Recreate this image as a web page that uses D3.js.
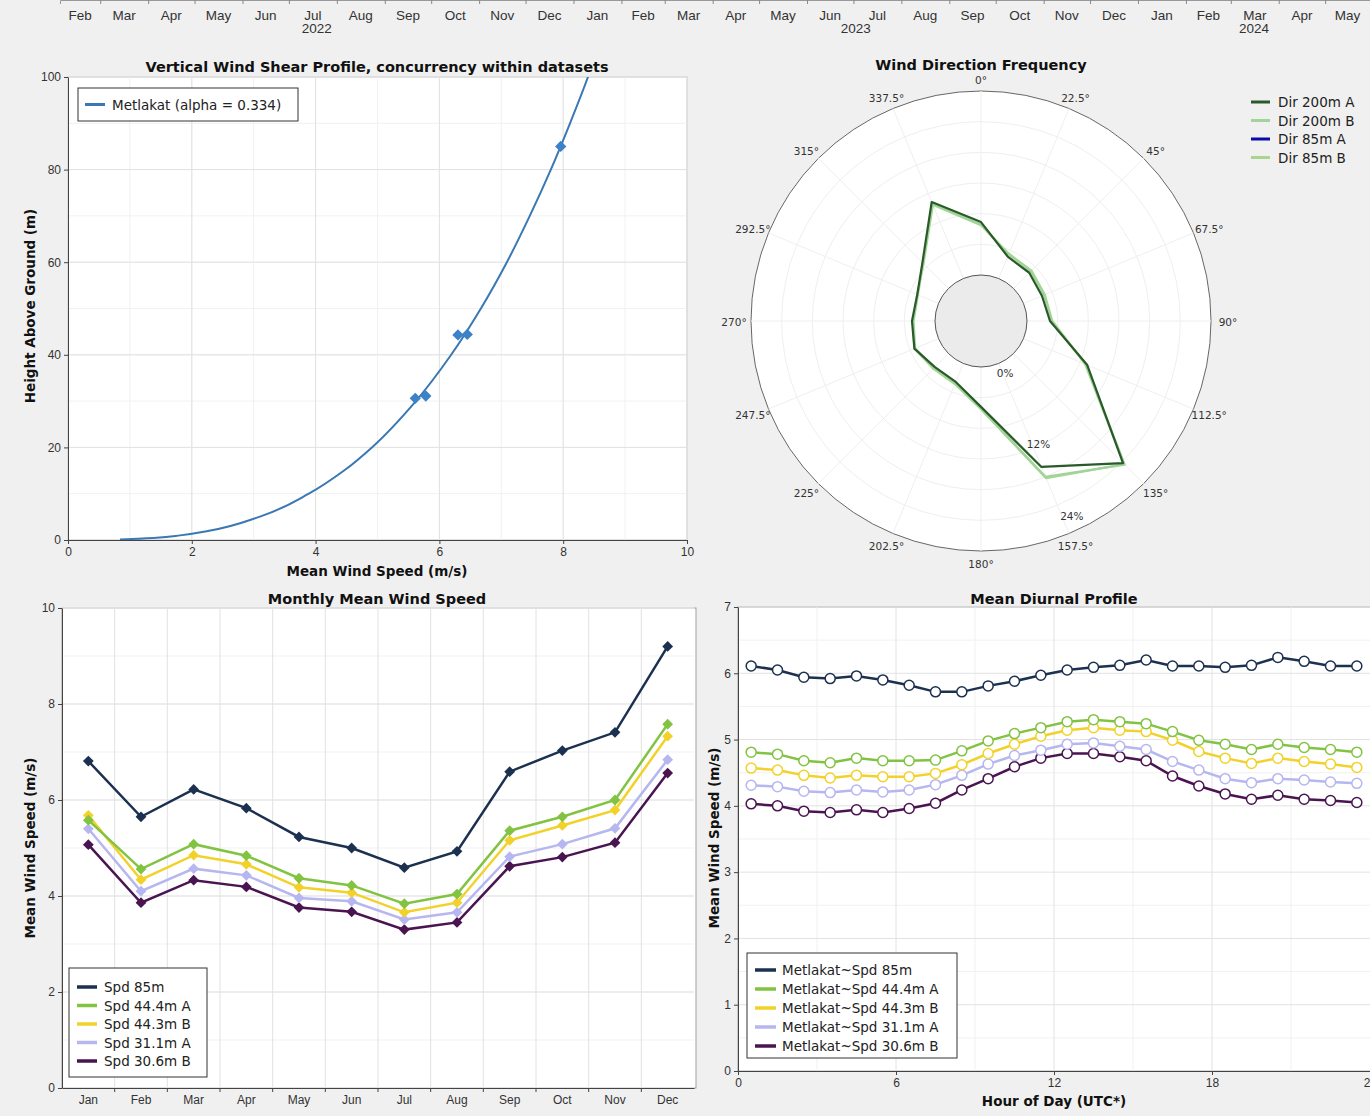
<!DOCTYPE html>
<html>
<head>
<meta charset="utf-8">
<script src="https://cdn.jsdelivr.net/npm/d3@7"></script>
<style>
  body { margin: 0; background: #f0f0f0; }
  svg { display: block; font-family: "Liberation Sans", Arial, sans-serif; }
  .title { font-family: "DejaVu Sans", sans-serif; font-weight: bold; font-size: 14.5px; fill: #111; }
  .axisTitle { font-family: "DejaVu Sans", sans-serif; font-weight: bold; font-size: 13.5px; fill: #111; }
  .tick text { font-size: 12px; fill: #333; font-family: "Liberation Sans", Arial, sans-serif; }
  .legendText { font-family: "DejaVu Sans", sans-serif; font-size: 13.5px; fill: #222; }
  .month { font-size: 13.5px; fill: #333; }
  .dirLabel { font-family: "DejaVu Sans", sans-serif; font-size: 10.5px; fill: #333; }
</style>
</head>
<body>
<svg id="chart" width="1370" height="1116"></svg>
<script>
// timeline strip
var timelineStart = new Date(2022, 1, 3),
    timelineEnd = new Date(2024, 4, 30);
var years = [2022, 2023, 2024];

// vertical shear profile (curve)
var shearLabel = "Metlakat (alpha = 0.334)";
var shearCurveHeight = [0.1, 0.5, 1, 2, 5, 10, 15, 20, 30, 40, 50, 60, 70, 80, 90, 100, 103];
var shearCurveSpeed = [0.84, 1.43, 1.81, 2.28, 3.09, 3.89, 4.46, 4.91, 5.62, 6.19, 6.67, 7.09, 7.46, 7.80, 8.11, 8.40, 8.48];
var shearPointHeight = [30.6, 31.1, 44.3, 44.4, 85];
var shearPointSpeed = [5.61, 5.78, 6.30, 6.45, 7.96];

// wind direction frequency (%)
var directions = [0, 22.5, 45, 67.5, 90, 112.5, 135, 157.5, 180, 202.5, 225, 247.5, 270, 292.5, 315, 337.5];
var dirNames = ["Dir 200m A", "Dir 200m B", "Dir 85m A", "Dir 85m B"];
var dir200A = [6.9, 3.1, 2.9, 2.6, 3.0, 9.0, 20.2, 14.6, 5.2, 2.6, 2.5, 3.4, 3.0, 3.0, 4.8, 10.8];
var dir200B = [6.6, 3.4, 3.2, 2.9, 3.2, 8.8, 20.5, 16.0, 5.4, 2.8, 2.7, 3.3, 2.8, 2.9, 4.7, 10.5];
var dir85A = [];
var dir85B = [6.5, 3.5, 3.3, 3.0, 3.3, 8.7, 20.4, 16.2, 5.5, 2.9, 2.8, 3.4, 2.9, 3.0, 4.6, 10.4];
var dirRingLabels = [0, 12, 24];

// monthly mean wind speed (m/s)
var months = ["Jan", "Feb", "Mar", "Apr", "May", "Jun", "Jul", "Aug", "Sep", "Oct", "Nov", "Dec"];
var monthlyNames = ["Spd 85m", "Spd 44.4m A", "Spd 44.3m B", "Spd 31.1m A", "Spd 30.6m B"];
var monthly85 = [6.81, 5.65, 6.22, 5.83, 5.23, 5.00, 4.59, 4.93, 6.59, 7.03, 7.41, 9.20];
var monthly444A = [5.58, 4.56, 5.08, 4.84, 4.37, 4.22, 3.84, 4.04, 5.36, 5.65, 6.00, 7.58];
var monthly443B = [5.68, 4.34, 4.85, 4.66, 4.18, 4.07, 3.66, 3.86, 5.16, 5.47, 5.79, 7.33];
var monthly311A = [5.40, 4.10, 4.57, 4.43, 3.96, 3.89, 3.51, 3.66, 4.82, 5.08, 5.41, 6.84];
var monthly306B = [5.07, 3.86, 4.33, 4.19, 3.76, 3.67, 3.30, 3.45, 4.62, 4.81, 5.11, 6.56];

// mean diurnal profile (m/s)
var hours = [0.5, 1.5, 2.5, 3.5, 4.5, 5.5, 6.5, 7.5, 8.5, 9.5, 10.5, 11.5, 12.5, 13.5, 14.5, 15.5, 16.5, 17.5, 18.5, 19.5, 20.5, 21.5, 22.5, 23.5];
var diurnalNames = ["Metlakat~Spd 85m", "Metlakat~Spd 44.4m A", "Metlakat~Spd 44.3m B", "Metlakat~Spd 31.1m A", "Metlakat~Spd 30.6m B"];
var diurnal85 = [6.11, 6.05, 5.94, 5.92, 5.96, 5.90, 5.82, 5.72, 5.72, 5.81, 5.88, 5.97, 6.05, 6.09, 6.12, 6.20, 6.11, 6.11, 6.09, 6.12, 6.24, 6.18, 6.11, 6.11];
var diurnal444A = [4.81, 4.78, 4.68, 4.65, 4.72, 4.68, 4.68, 4.69, 4.83, 4.98, 5.09, 5.18, 5.27, 5.30, 5.27, 5.24, 5.12, 4.99, 4.93, 4.85, 4.93, 4.88, 4.85, 4.81];
var diurnal443B = [4.57, 4.54, 4.46, 4.42, 4.46, 4.44, 4.44, 4.49, 4.62, 4.79, 4.93, 5.05, 5.14, 5.18, 5.14, 5.12, 4.99, 4.82, 4.72, 4.64, 4.72, 4.67, 4.63, 4.58];
var diurnal311A = [4.31, 4.29, 4.22, 4.20, 4.24, 4.21, 4.24, 4.32, 4.46, 4.63, 4.76, 4.84, 4.93, 4.95, 4.90, 4.85, 4.67, 4.54, 4.41, 4.35, 4.41, 4.39, 4.36, 4.34];
var diurnal306B = [4.03, 4.00, 3.92, 3.90, 3.94, 3.90, 3.96, 4.04, 4.24, 4.41, 4.59, 4.72, 4.79, 4.79, 4.74, 4.68, 4.45, 4.30, 4.18, 4.10, 4.16, 4.10, 4.08, 4.05];

var speedColors = ["#1c3150", "#82c341", "#f2d22a", "#b6b6f0", "#4a1450"];
var dirColors = ["#2a5a2a", "#9fd59a", "#0a0aa8", "#a9d58e"];

var svg = d3.select("#chart");

function frame(x0, y0, x1, y1) {
    svg.append("rect")
        .attr("x", x0).attr("y", y0)
        .attr("width", x1 - x0).attr("height", y1 - y0)
        .attr("fill", "#fff")
        .attr("stroke", "#a0a0a0");
}

function grid(x, y, xs, ys, color) {
    var g = svg.append("g").attr("stroke", color).attr("stroke-width", 1);
    g.selectAll(".gx").data(xs).enter().append("line")
        .attr("x1", function (d) { return x(d); }).attr("x2", function (d) { return x(d); })
        .attr("y1", y.range()[0]).attr("y2", y.range()[1]);
    g.selectAll(".gy").data(ys).enter().append("line")
        .attr("y1", function (d) { return y(d); }).attr("y2", function (d) { return y(d); })
        .attr("x1", x.range()[0]).attr("x2", x.range()[1]);
}

function styleAxis(g) {
    g.select(".domain").attr("stroke", "#444");
    g.selectAll(".tick line").attr("stroke", "#444");
}

function yTitle(text, cx, cy) {
    svg.append("text")
        .attr("class", "axisTitle")
        .attr("transform", "translate(" + cx + "," + cy + ") rotate(-90)")
        .attr("text-anchor", "middle")
        .text(text);
}

// ---------- timeline strip ----------
var tScale = d3.scaleTime().domain([timelineStart, timelineEnd]).range([60, 1370]);

svg.append("g")
    .attr("transform", "translate(0,0)")
    .call(d3.axisBottom(tScale).ticks(d3.timeMonth.every(1)).tickSize(4).tickFormat(""))
    .call(function (g) {
        g.select(".domain").attr("stroke", "#999");
        g.selectAll(".tick line").attr("stroke", "#888");
    });

var monthStarts = [d3.timeMonth.floor(timelineStart)].concat(d3.timeMonth.range(d3.timeMonth.ceil(timelineStart), timelineEnd));
svg.selectAll(".month")
    .data(monthStarts)
    .enter().append("text")
    .attr("class", "month")
    .attr("text-anchor", "middle")
    .attr("x", function (d) {
        var a = d < timelineStart ? timelineStart : d;
        var b = d3.timeMonth.offset(d, 1);
        if (b > timelineEnd) b = timelineEnd;
        return (tScale(a) + tScale(b)) / 2;
    })
    .attr("y", 20)
    .text(d3.timeFormat("%b"));

svg.selectAll(".year")
    .data(years)
    .enter().append("text")
    .attr("class", "month")
    .attr("text-anchor", "middle")
    .attr("x", function (d) {
        var a = new Date(d, 0, 1), b = new Date(d + 1, 0, 1);
        if (a < timelineStart) a = timelineStart;
        if (b > timelineEnd) b = timelineEnd;
        return (tScale(a) + tScale(b)) / 2;
    })
    .attr("y", 33)
    .text(function (d) { return d; });

// ---------- vertical wind shear profile ----------
var sx = d3.scaleLinear().domain([0, 10]).range([68, 687]);
var sy = d3.scaleLinear().domain([0, 100]).range([540, 77]);

frame(68, 77, 687, 540);
grid(sx, sy, sx.ticks(10), sy.ticks(10), "#f1f1f1");
grid(sx, sy, sx.ticks(5), sy.ticks(5), "#e2e2e2");

svg.append("clipPath").attr("id", "shearClip")
    .append("rect").attr("x", 68).attr("y", 77).attr("width", 619).attr("height", 463);

var shearCurve = shearCurveHeight.map(function (h, i) { return [shearCurveSpeed[i], h]; });
svg.append("path")
    .datum(shearCurve)
    .attr("clip-path", "url(#shearClip)")
    .attr("fill", "none")
    .attr("stroke", "#3a78b4")
    .attr("stroke-width", 2)
    .attr("d", d3.line()
        .x(function (d) { return sx(d[0]); })
        .y(function (d) { return sy(d[1]); })
        .curve(d3.curveMonotoneY));

svg.selectAll(".shearPt")
    .data(shearPointHeight)
    .enter().append("path")
    .attr("transform", function (d, i) { return "translate(" + sx(shearPointSpeed[i]) + "," + sy(d) + ") rotate(45)"; })
    .attr("d", d3.symbol(d3.symbolSquare, 64))
    .attr("fill", "#3c82c8");

svg.append("g")
    .attr("transform", "translate(0,540)")
    .call(d3.axisBottom(sx).ticks(5).tickSize(4).tickSizeOuter(0))
    .call(styleAxis);
svg.append("g")
    .attr("transform", "translate(68,0)")
    .call(d3.axisLeft(sy).ticks(5).tickSize(4).tickSizeOuter(0))
    .call(styleAxis);

svg.append("text").attr("class", "title").attr("text-anchor", "middle")
    .attr("x", 377).attr("y", 72).text("Vertical Wind Shear Profile, concurrency within datasets");
svg.append("text").attr("class", "axisTitle").attr("text-anchor", "middle")
    .attr("x", 377).attr("y", 576).text("Mean Wind Speed (m/s)");
yTitle("Height Above Ground (m)", 35, 306);

var shearLegend = svg.append("g");
shearLegend.append("rect").attr("x", 78).attr("y", 88).attr("width", 220).attr("height", 33)
    .attr("fill", "#fff").attr("stroke", "#333");
shearLegend.append("line").attr("x1", 85).attr("x2", 105).attr("y1", 104.5).attr("y2", 104.5)
    .attr("stroke", "#3a78b4").attr("stroke-width", 3);
shearLegend.append("text").attr("class", "legendText").attr("x", 112).attr("y", 109.5).text(shearLabel);

// ---------- wind direction frequency ----------
var pcx = 981, pcy = 321;
var pr = d3.scaleLinear().domain([0, 24]).range([46, 230]);
var ringLabelR = d3.scaleLinear().domain([0, 24]).range([57, 215]);
var polar = svg.append("g").attr("transform", "translate(" + pcx + "," + pcy + ")");

polar.append("circle").attr("r", pr(24)).attr("fill", "#fff").attr("stroke", "#666");
polar.selectAll(".ring")
    .data(d3.range(4, 24, 4))
    .enter().append("circle")
    .attr("r", function (d) { return pr(d); })
    .attr("fill", "none").attr("stroke", "#efefef");
polar.selectAll(".spoke")
    .data(directions)
    .enter().append("line")
    .attr("x1", function (d) { return pr(0) * Math.sin(d * Math.PI / 180); })
    .attr("y1", function (d) { return -pr(0) * Math.cos(d * Math.PI / 180); })
    .attr("x2", function (d) { return pr(24) * Math.sin(d * Math.PI / 180); })
    .attr("y2", function (d) { return -pr(24) * Math.cos(d * Math.PI / 180); })
    .attr("stroke", "#efefef");
polar.append("circle").attr("r", pr(0)).attr("fill", "#ebebeb").attr("stroke", "#555");

var radial = d3.lineRadial()
    .angle(function (d) { return d[0] * Math.PI / 180; })
    .radius(function (d) { return pr(d[1]); })
    .curve(d3.curveLinearClosed);

var dirData = [dir200A, dir200B, dir85A, dir85B];
[3, 1, 2, 0].forEach(function (k) {
    if (!dirData[k].length) return;
    polar.append("path")
        .datum(directions.map(function (a, i) { return [a, dirData[k][i]]; }))
        .attr("fill", "none")
        .attr("stroke", dirColors[k])
        .attr("stroke-width", 2.2)
        .attr("stroke-linejoin", "round")
        .attr("d", radial);
});

polar.selectAll(".ringLabel")
    .data(dirRingLabels)
    .enter().append("text")
    .attr("class", "dirLabel")
    .attr("text-anchor", "middle")
    .attr("x", function (d) { return ringLabelR(d) * Math.sin(155 * Math.PI / 180); })
    .attr("y", function (d) { return -ringLabelR(d) * Math.cos(155 * Math.PI / 180) + 4; })
    .text(function (d) { return d + "%"; });

polar.selectAll(".angLabel")
    .data(directions)
    .enter().append("text")
    .attr("class", "dirLabel")
    .attr("text-anchor", "middle")
    .attr("x", function (d) { return 247 * Math.sin(d * Math.PI / 180); })
    .attr("y", function (d) { return -242 * Math.cos(d * Math.PI / 180) + 5; })
    .text(function (d) { return d + "\u00b0"; });

svg.append("text").attr("class", "title").attr("text-anchor", "middle")
    .attr("x", 981).attr("y", 70).text("Wind Direction Frequency");

var dirLegend = svg.selectAll(".dirLeg")
    .data(dirNames)
    .enter().append("g")
    .attr("transform", function (d, i) { return "translate(1251," + (102 + i * 18.5) + ")"; });
dirLegend.append("line").attr("x1", 0).attr("x2", 19)
    .attr("stroke", function (d, i) { return dirColors[i]; }).attr("stroke-width", 3);
dirLegend.append("text").attr("class", "legendText").attr("x", 27).attr("y", 5)
    .text(function (d) { return d; });

// ---------- monthly mean wind speed ----------
var mx = d3.scaleBand().domain(months).range([62, 694]);
var my = d3.scaleLinear().domain([0, 10]).range([1088, 608]);
var mxc = function (m) { return mx(m) + mx.bandwidth() / 2; };

frame(62, 608, 696, 1088);
grid(mx, my, [], my.ticks(10), "#f1f1f1");
var mBounds = months.slice(1).map(function (m) { return mx(m); });
grid(d3.scaleIdentity().range([62, 694]), my, mBounds, my.ticks(5), "#e2e2e2");

var monthlyData = [monthly85, monthly444A, monthly443B, monthly311A, monthly306B];
var mline = d3.line()
    .x(function (d, i) { return mxc(months[i]); })
    .y(function (d) { return my(d); });

[4, 3, 2, 1, 0].forEach(function (k) {
    svg.append("path")
        .datum(monthlyData[k])
        .attr("fill", "none")
        .attr("stroke", speedColors[k])
        .attr("stroke-width", 2.5)
        .attr("d", mline);
    svg.selectAll(".mPt" + k)
        .data(monthlyData[k])
        .enter().append("path")
        .attr("transform", function (d, i) { return "translate(" + mxc(months[i]) + "," + my(d) + ") rotate(45)"; })
        .attr("d", d3.symbol(d3.symbolSquare, 58))
        .attr("fill", speedColors[k]);
});

svg.append("g")
    .attr("transform", "translate(0,1088)")
    .call(d3.axisBottom(mx).tickSize(0).tickPadding(7))
    .call(styleAxis);
svg.selectAll(".mTick")
    .data(mBounds)
    .enter().append("line")
    .attr("x1", function (d) { return d; }).attr("x2", function (d) { return d; })
    .attr("y1", 1088).attr("y2", 1092).attr("stroke", "#444");
svg.append("g")
    .attr("transform", "translate(62,0)")
    .call(d3.axisLeft(my).ticks(5).tickSize(4).tickSizeOuter(0))
    .call(styleAxis);

svg.append("text").attr("class", "title").attr("text-anchor", "middle")
    .attr("x", 377).attr("y", 604).text("Monthly Mean Wind Speed");
yTitle("Mean Wind Speed (m/s)", 35, 848);

var mLegend = svg.append("g");
mLegend.append("rect").attr("x", 69).attr("y", 968).attr("width", 138).attr("height", 109)
    .attr("fill", "#fff").attr("stroke", "#333");
var mRows = mLegend.selectAll(".mLeg")
    .data(monthlyNames)
    .enter().append("g")
    .attr("transform", function (d, i) { return "translate(77," + (987 + i * 18.5) + ")"; });
mRows.append("line").attr("x1", 0).attr("x2", 20)
    .attr("stroke", function (d, i) { return speedColors[i]; }).attr("stroke-width", 3.5);
mRows.append("text").attr("class", "legendText").attr("x", 27).attr("y", 5).text(function (d) { return d; });

// ---------- mean diurnal profile ----------
var dx = d3.scaleLinear().domain([0, 24]).range([738, 1370]);
var dy = d3.scaleLinear().domain([0, 7]).range([1071, 607]);

frame(738, 607, 1375, 1071);
grid(dx, dy, [3, 9, 15, 21], d3.range(0.5, 7, 1), "#f1f1f1");
grid(dx, dy, [6, 12, 18], dy.ticks(7), "#e2e2e2");

var diurnalData = [diurnal85, diurnal444A, diurnal443B, diurnal311A, diurnal306B];
var dline = d3.line()
    .x(function (d, i) { return dx(hours[i]); })
    .y(function (d) { return dy(d); });

[4, 3, 2, 1, 0].forEach(function (k) {
    svg.append("path")
        .datum(diurnalData[k])
        .attr("fill", "none")
        .attr("stroke", speedColors[k])
        .attr("stroke-width", 2.5)
        .attr("d", dline);
    svg.selectAll(".dPt" + k)
        .data(diurnalData[k])
        .enter().append("circle")
        .attr("cx", function (d, i) { return dx(hours[i]); })
        .attr("cy", function (d) { return dy(d); })
        .attr("r", 5)
        .attr("fill", "#fff")
        .attr("stroke", speedColors[k])
        .attr("stroke-width", 1.5);
});

svg.append("g")
    .attr("transform", "translate(0,1071)")
    .call(d3.axisBottom(dx).tickValues([0, 6, 12, 18, 24]).tickSize(4).tickSizeOuter(0))
    .call(styleAxis);
svg.append("g")
    .attr("transform", "translate(738,0)")
    .call(d3.axisLeft(dy).ticks(7).tickSize(4).tickSizeOuter(0))
    .call(styleAxis);

svg.append("text").attr("class", "title").attr("text-anchor", "middle")
    .attr("x", 1054).attr("y", 604).text("Mean Diurnal Profile");
svg.append("text").attr("class", "axisTitle").attr("text-anchor", "middle")
    .attr("x", 1054).attr("y", 1106).text("Hour of Day (UTC*)");
yTitle("Mean Wind Speed (m/s)", 719, 838);

var dLegend = svg.append("g");
dLegend.append("rect").attr("x", 747).attr("y", 953).attr("width", 210).attr("height", 105)
    .attr("fill", "#fff").attr("stroke", "#333");
var dRows = dLegend.selectAll(".dLeg")
    .data(diurnalNames)
    .enter().append("g")
    .attr("transform", function (d, i) { return "translate(755," + (970 + i * 19) + ")"; });
dRows.append("line").attr("x1", 0).attr("x2", 21)
    .attr("stroke", function (d, i) { return speedColors[i]; }).attr("stroke-width", 3.5);
dRows.append("text").attr("class", "legendText").attr("x", 27).attr("y", 5).text(function (d) { return d; });
</script>
</body>
</html>
